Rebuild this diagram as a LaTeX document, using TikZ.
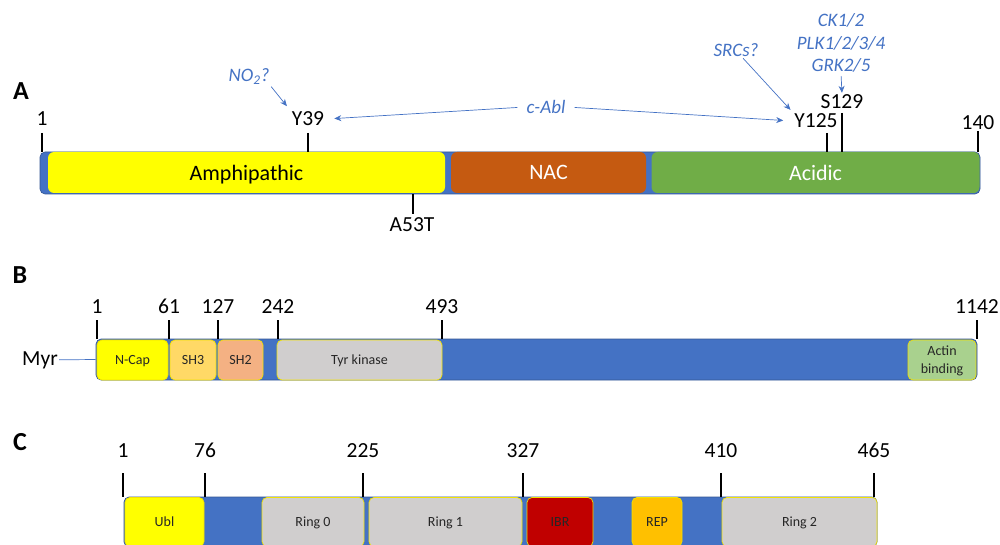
\documentclass[tikz,border=0pt]{standalone}
\usepackage{fontspec}
\setmainfont{Carlito}
\usepackage{tikz}
\usetikzlibrary{arrows.meta}
\definecolor{barblue}{HTML}{4472C4}
\definecolor{labblue}{HTML}{4472C4}
\definecolor{amphyel}{HTML}{FFFF00}
\definecolor{nacbrown}{HTML}{C55A11}
\definecolor{acidgreen}{HTML}{70AD47}
\definecolor{sh3col}{HTML}{FFD966}
\definecolor{sh2col}{HTML}{F4B183}
\definecolor{greydom}{HTML}{D0CECE}
\definecolor{actincol}{HTML}{A9D18E}
\definecolor{ibrcol}{HTML}{C00000}
\definecolor{repcol}{HTML}{FFC000}
\definecolor{domedge}{HTML}{F2E200}
\begin{document}
\begin{tikzpicture}[x=1pt,y=-1pt,
  bar/.style={draw=barblue!75!black,fill=barblue,rounded corners=5pt,line width=0.6pt,inner sep=0pt},
  dom/.style={rounded corners=6pt,inner sep=0pt,text depth=0pt,font=\fontsize{22}{26}\selectfont},
  sdom/.style={draw=domedge,line width=0.7pt,rounded corners=5pt,inner sep=0pt,text depth=0pt,text=black!85,font=\fontsize{14}{18}\selectfont},
  num/.style={anchor=base,inner sep=1pt,font=\fontsize{21.5}{25}\selectfont},
  enz/.style={anchor=base,inner sep=1pt,text=labblue,align=center,font=\fontsize{19}{22.5}\selectfont\itshape},
  panel/.style={anchor=base,inner sep=0pt,font=\fontsize{26}{30}\selectfont\bfseries},
  tick/.style={line width=2.2pt},
  enzarrow/.style={draw=labblue,line width=0.7pt,-{Stealth[length=7pt,width=6pt]}}]
\clip (0,0) rectangle (1000,545);

\node[panel] (pa) at (21,100) {A};
\node[bar,minimum width=940pt,minimum height=42pt] (abar) at (510,173) {};
\node[dom,fill=amphyel,minimum width=397pt,minimum height=41pt] (amph) at (246.5,172.5) {Amphipathic};
\node[dom,fill=nacbrown,text=white,minimum width=195pt,minimum height=41pt] (nac) at (548.5,172.5) {NAC};
\node[dom,fill=acidgreen,text=white,minimum width=328pt,minimum height=41pt] (acid) at (815.5,172.5) {Acidic};
\draw[tick] (42,133) -- (42,152);
\draw[tick] (308,133) -- (308,152);
\draw[tick] (413,194) -- (413,214);
\draw[tick] (827,133) -- (827,152);
\draw[tick] (842,113) -- (842,152);
\draw[tick] (978,131) -- (978,152);
\node[num] (a1) at (42,126) {1};
\node[num] (y39) at (308,126) {Y39};
\node[num] (a53t) at (412,232) {A53T};
\node[num] (y125) at (816,128) {Y125};
\node[num] (s129) at (842,109) {S129};
\node[num] (a140) at (978,130) {140};
\node[enz] (no2) at (249,82) {NO\textsubscript{2}?};
\node[enz,inner xsep=9pt] (cabl) at (546,114) {c-Abl};
\node[enz] (srcs) at (736,57) {SRCs?};
\node[enz] (kin) at (841,72) {CK1/2\\PLK1/2/3/4\\GRK2/5};
\draw[enzarrow,shorten <=1pt,shorten >=6pt] (no2.south east) -- (y39.north west);
\draw[enzarrow,shorten >=9pt] (cabl.west) -- (y39.east);
\draw[enzarrow,shorten >=10pt] (cabl.east) -- (y125.west);
\draw[enzarrow,shorten >=4pt] (srcs) -- (y125.north west);
\draw[enzarrow,shorten <=2pt,shorten >=1pt] (kin.south) -- (s129.north);

\node[panel] (pb) at (20,283) {B};
\node[bar,minimum width=881pt,minimum height=41pt] (bbar) at (536.5,359.5) {};
\node[sdom,fill=amphyel,minimum width=71pt,minimum height=40pt] (ncap) at (132.5,360) {N-Cap};
\node[sdom,fill=sh3col,minimum width=46pt,minimum height=40pt] (sh3) at (193,360) {SH3};
\node[sdom,fill=sh2col,minimum width=45pt,minimum height=40pt] (sh2) at (240.5,360) {SH2};
\node[sdom,fill=greydom,minimum width=165pt,minimum height=40pt] (tyr) at (359.5,360) {Tyr kinase};
\node[sdom,fill=actincol,minimum width=68pt,minimum height=40pt,align=center] (actin) at (942,360) {Actin\\binding};
\foreach \x/\n in {97/1,169/61,218/127,278/242,442/493,977/1142}{
  \draw[tick] (\x,320) -- (\x,339);
  \node[num] (b\n) at (\x,313) {\n};
}
\node[num] (myr) at (40,365) {Myr};
\draw[draw=labblue,line width=0.7pt] (myr.east) -- (bbar.west);

\node[panel] (pc) at (20,450) {C};
\node[bar,minimum width=753pt,minimum height=50pt] (cbar) at (500.5,522) {};
\node[sdom,fill=amphyel,minimum width=79pt,minimum height=49pt] (ubl) at (164.5,522) {Ubl};
\node[sdom,fill=greydom,minimum width=102pt,minimum height=49pt] (ring0) at (313,522) {Ring 0};
\node[sdom,fill=greydom,minimum width=153pt,minimum height=49pt] (ring1) at (445.5,522) {Ring 1};
\node[sdom,fill=ibrcol,minimum width=66pt,minimum height=49pt] (ibr) at (560,522) {IBR};
\node[sdom,fill=repcol,minimum width=50pt,minimum height=49pt] (rep) at (657,522) {REP};
\node[sdom,fill=greydom,minimum width=155pt,minimum height=49pt] (ring2) at (799.5,522) {Ring 2};
\foreach \x/\n in {123/1,205/76,363/225,523/327,721/410,874/465}{
  \draw[tick] (\x,473) -- (\x,497);
  \node[num] (c\n) at (\x,457) {\n};
}
\end{tikzpicture}
\end{document}
